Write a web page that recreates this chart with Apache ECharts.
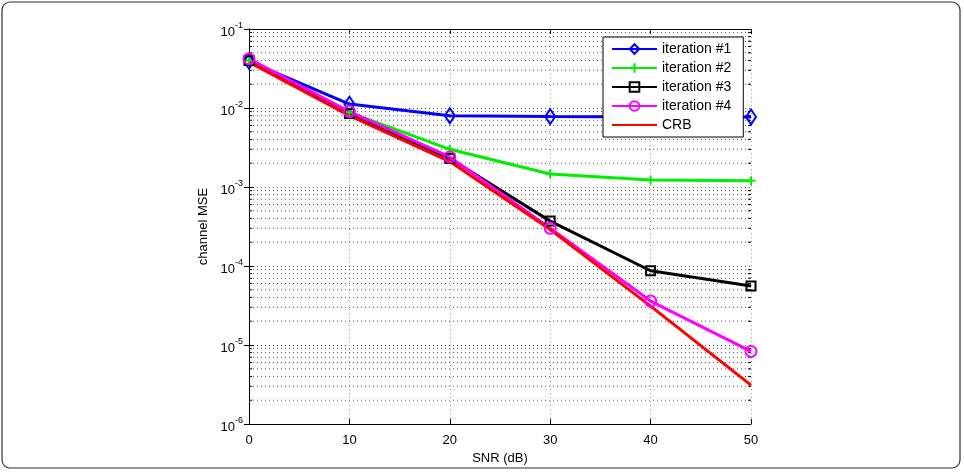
<!DOCTYPE html>
<html>
<head>
<meta charset="utf-8">
<script src="https://cdn.jsdelivr.net/npm/echarts@6/dist/echarts.min.js"></script>
<style>
  html, body { margin: 0; padding: 0; background: #fff; }
  #chart { width: 964px; height: 472px; }
</style>
</head>
<body>
<div id="chart"></div>
<script>
// SNR points (dB)
const snr = [0, 10, 20, 30, 40, 50];

// channel MSE
const iter1 = [0.039, 0.0112, 0.0080, 0.0078, 0.0077, 0.0077];
const iter2 = [0.040, 0.0088, 0.0030, 0.00146, 0.00123, 0.0012];
const iter3 = [0.040, 0.0085, 0.0023, 0.00037, 0.000087, 0.000056];
const iter4 = [0.042, 0.0090, 0.0024, 0.00030, 0.000036, 0.0000083];
const crb = [0.038, 0.0080, 0.0021, 0.00029, 0.000031, 0.0000031];

const seriesNames = ['iteration #1', 'iteration #2', 'iteration #3', 'iteration #4', 'CRB'];
const yExponents = [-6, -5, -4, -3, -2, -1];

// minor grid values 2..9 x 10^n
const minorVals = [];
for (let e = -6; e < -1; e++) {
  for (let m = 2; m <= 9; m++) minorVals.push(m * Math.pow(10, e));
}

const pair = ys => snr.map((x, i) => [x, ys[i]]);

const font = 'Liberation Sans';
const plus = 'path://M0,-5L0,5M-5,0L5,0';

function lineSeries(name, ys, color, symbol, size) {
  return {
    name: name,
    type: 'line',
    data: pair(ys),
    symbol: symbol,
    symbolSize: size,
    showSymbol: symbol !== 'none',
    color: color,
    lineStyle: { color: color, width: 3 },
    itemStyle: { color: 'rgba(0,0,0,0)', borderColor: color, borderWidth: 2 },
    z: 5,
    animation: false
  };
}

const chart = echarts.init(document.getElementById('chart'));

chart.setOption({
  animation: false,
  graphic: [{
    type: 'rect',
    shape: { x: 2, y: 2, width: 958, height: 466, r: 8 },
    style: { fill: 'none', stroke: '#333', lineWidth: 1.2 },
    silent: true
  }],
  grid: { left: 249, right: 213, top: 29, bottom: 48 },
  legend: {
    orient: 'vertical',
    left: 603,
    top: 37,
    z: 20,
    padding: [5, 12, 5, 8],
    itemGap: 5,
    itemWidth: 45,
    itemHeight: 12,
    backgroundColor: '#fff',
    borderColor: '#000',
    borderWidth: 1,
    textStyle: { fontFamily: font, fontSize: 14, color: '#000' },
    data: seriesNames.map(n => n === 'CRB'
      ? { name: n, itemStyle: { color: 'rgba(0,0,0,0)', borderColor: 'rgba(0,0,0,0)', borderWidth: 0 } }
      : { name: n })
  },
  xAxis: [{
    type: 'value',
    min: 0, max: 50, interval: 10,
    name: 'SNR (dB)',
    nameLocation: 'middle',
    nameGap: 25,
    nameTextStyle: { fontFamily: font, fontSize: 13, color: '#000' },
    axisLine: { show: true, lineStyle: { color: '#000', width: 1 } },
    axisTick: { inside: true, length: 5, lineStyle: { color: '#000' } },
    axisLabel: { fontFamily: font, fontSize: 13, color: '#000', margin: 10 },
    splitLine: { show: true, lineStyle: { color: '#999', type: [1, 3], width: 1 } }
  }, {
    type: 'value',
    position: 'top',
    min: 0, max: 50, interval: 10,
    axisLine: { show: true, lineStyle: { color: '#000', width: 1 } },
    axisTick: { inside: true, length: 5, lineStyle: { color: '#000' } },
    axisLabel: { show: false },
    splitLine: { show: false }
  }],
  yAxis: [{
    type: 'log',
    logBase: 10,
    min: 1e-6, max: 1e-1,
    name: 'channel MSE',
    nameLocation: 'middle',
    nameGap: 38,
    nameTextStyle: { fontFamily: font, fontSize: 13, color: '#000' },
    axisLine: { show: true, lineStyle: { color: '#000', width: 1 } },
    axisTick: { inside: true, length: 5, lineStyle: { color: '#000' } },
    axisLabel: {
      margin: 6,
      formatter: function (v) {
        const e = Math.round(Math.log10(v));
        return yExponents.indexOf(e) >= 0 ? '{b|10}{s|' + e + '}' : '';
      },
      rich: {
        b: { fontFamily: font, fontSize: 13, color: '#000', padding: [6, 0, 0, 0] },
        s: { fontFamily: font, fontSize: 9, color: '#000', padding: [0, 0, 6, 0] }
      }
    },
    splitLine: { show: true, lineStyle: { color: '#555', type: [1, 3], width: 1 } }
  }, {
    type: 'log',
    logBase: 10,
    min: 1e-6, max: 1e-1,
    position: 'right',
    axisLine: { show: true, lineStyle: { color: '#000', width: 1 } },
    axisTick: { inside: true, length: 5, lineStyle: { color: '#000' } },
    axisLabel: { show: false },
    splitLine: { show: false }
  }],
  series: [
    {
      type: 'custom',
      name: 'minor',
      silent: true,
      z: 1,
      data: minorVals.map(v => [0, v]),
      renderItem: function (params, api) {
        const v = api.value(1);
        const a = api.coord([0, v]);
        const b = api.coord([50, v]);
        return {
          type: 'group',
          children: [
            { type: 'line', shape: { x1: a[0], y1: a[1], x2: b[0], y2: b[1] },
              style: { stroke: '#555', lineWidth: 1, lineDash: [1, 3] } },
            { type: 'line', shape: { x1: a[0], y1: a[1], x2: a[0] + 3, y2: a[1] },
              style: { stroke: '#000', lineWidth: 1 } },
            { type: 'line', shape: { x1: b[0] - 3, y1: b[1], x2: b[0], y2: b[1] },
              style: { stroke: '#000', lineWidth: 1 } }
          ]
        };
      }
    },
    lineSeries(seriesNames[0], iter1, '#0000ff', 'diamond', [10, 15]),
    lineSeries(seriesNames[1], iter2, '#00ee00', plus, 9),
    lineSeries(seriesNames[2], iter3, '#000000', 'rect', 9),
    lineSeries(seriesNames[3], iter4, '#ff00ff', 'circle', 11),
    lineSeries(seriesNames[4], crb, '#ff0000', 'none', 0)
  ]
});

window.addEventListener('resize', function () {
  chart.resize();
});
</script>
</body>
</html>
